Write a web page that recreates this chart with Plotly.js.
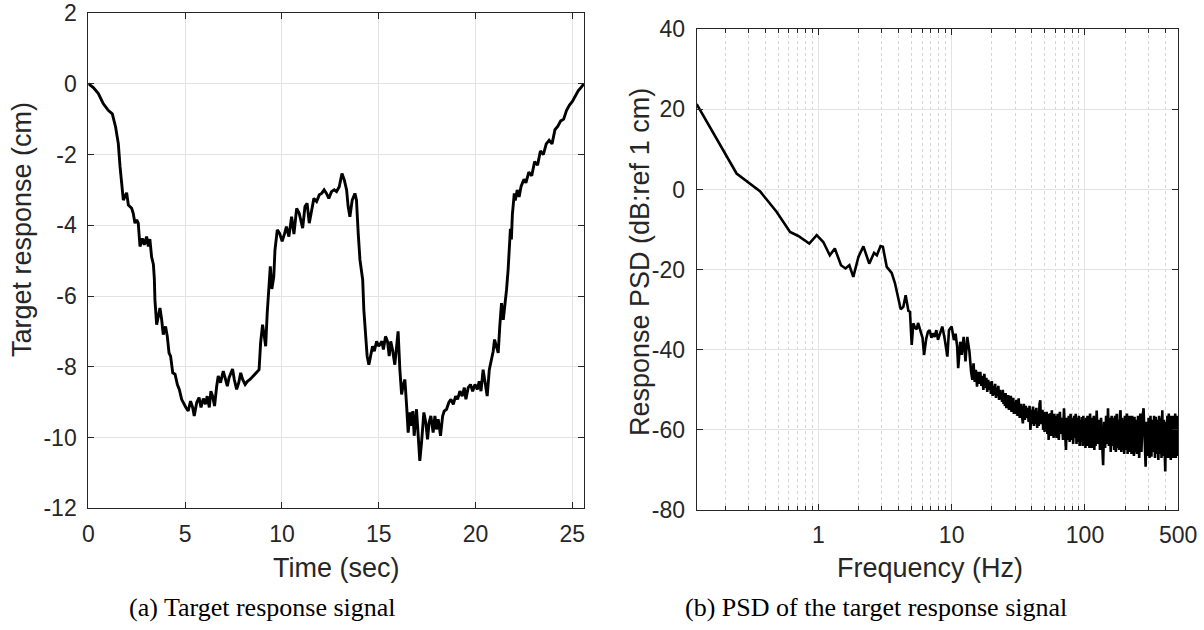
<!DOCTYPE html>
<html>
<head>
<meta charset="utf-8">
<script src="https://cdn.plot.ly/plotly-3.0.1.min.js"></script>
<style>html,body{margin:0;padding:0;background:#fff;}#chart{width:1204px;height:630px;}</style>
</head>
<body>
<div id="chart"></div>
<script>
// ---- Data ----
var timeSec = [0,0.26,0.52,0.77,1.03,1.24,1.41,1.55,1.64,1.72,1.81,1.89,1.98,2.07,2.24,2.32,2.41,2.50,2.58,2.67,2.79,2.89,3.01,3.10,3.18,3.27,3.36,3.41,3.44,3.53,3.61,3.70,3.79,3.87,3.99,4.08,4.17,4.25,4.36,4.48,4.60,4.70,4.82,4.94,5.04,5.16,5.28,5.39,5.47,5.60,5.72,5.82,5.94,6.05,6.14,6.25,6.33,6.42,6.52,6.63,6.71,6.83,6.97,7.09,7.18,7.27,7.35,7.45,7.54,7.66,7.77,7.87,7.97,8.10,8.22,8.35,8.52,8.69,8.82,8.90,9.00,9.09,9.16,9.24,9.33,9.40,9.48,9.58,9.64,9.76,9.88,10.01,10.14,10.23,10.36,10.50,10.62,10.76,10.89,11.07,11.19,11.30,11.41,11.53,11.65,11.79,11.93,12.05,12.18,12.30,12.42,12.56,12.70,12.82,12.96,13.10,13.22,13.34,13.42,13.51,13.63,13.77,13.85,13.94,14.03,14.11,14.17,14.23,14.32,14.40,14.49,14.61,14.68,14.77,14.89,15.00,15.16,15.24,15.35,15.45,15.54,15.62,15.71,15.83,15.92,16.00,16.09,16.18,16.27,16.35,16.44,16.52,16.61,16.70,16.76,16.83,16.95,17.04,17.12,17.21,17.33,17.43,17.52,17.60,17.69,17.81,17.90,17.98,18.07,18.19,18.30,18.38,18.50,18.62,18.73,18.85,18.97,19.07,19.19,19.31,19.42,19.50,19.62,19.74,19.85,19.97,20.09,20.19,20.28,20.39,20.48,20.60,20.71,20.83,20.91,20.98,21.09,21.17,21.25,21.34,21.43,21.51,21.60,21.68,21.75,21.80,21.85,21.90,22.00,22.05,22.15,22.25,22.35,22.50,22.60,22.75,22.90,23.05,23.20,23.35,23.50,23.65,23.80,23.95,24.10,24.25,24.40,24.55,24.70,24.85,25.00,25.15,25.30,25.45,25.60];
var responseCm = [0,-0.11,-0.28,-0.56,-0.75,-0.85,-1.22,-1.69,-2.35,-2.91,-3.29,-3.19,-3.08,-3.43,-3.52,-3.66,-3.94,-3.85,-3.94,-4.60,-4.37,-4.55,-4.32,-4.60,-4.39,-4.90,-5.10,-5.50,-6.10,-6.81,-6.57,-6.34,-6.67,-7.09,-6.86,-7.14,-7.61,-7.70,-8.17,-8.21,-8.50,-8.64,-8.92,-9.06,-9.15,-9.25,-8.97,-9.15,-9.39,-9.01,-8.87,-9.15,-8.90,-9.06,-8.83,-9.15,-8.69,-8.83,-9.11,-8.55,-8.26,-8.45,-8.12,-8.36,-8.55,-8.31,-8.22,-8.06,-8.36,-8.64,-8.45,-8.17,-8.36,-8.50,-8.41,-8.36,-8.26,-8.17,-8.08,-7.32,-6.81,-7.14,-7.42,-6.48,-5.60,-5.16,-5.80,-5.45,-4.70,-4.13,-4.23,-4.45,-4.23,-4.04,-4.32,-3.76,-4.25,-3.52,-3.66,-4.08,-3.47,-3.38,-3.94,-3.57,-3.24,-3.33,-3.14,-3.10,-3.00,-3.10,-3.24,-3.05,-3.00,-3.05,-2.91,-2.54,-2.72,-3.00,-3.47,-3.76,-3.29,-3.10,-3.29,-4.23,-4.98,-5.30,-5.54,-6.39,-7.23,-7.70,-7.94,-7.61,-7.42,-7.56,-7.28,-7.42,-7.28,-7.51,-7.14,-7.28,-7.70,-7.28,-7.51,-7.94,-7.42,-7.00,-8.08,-8.78,-8.50,-8.36,-9.11,-9.86,-9.29,-9.67,-9.25,-9.95,-9.20,-9.95,-10.66,-10.14,-9.29,-9.58,-10.05,-9.58,-9.39,-9.86,-9.39,-9.77,-9.48,-9.95,-9.39,-9.25,-9.20,-9.01,-8.92,-9.06,-8.83,-8.92,-8.69,-8.83,-8.59,-8.92,-8.59,-8.50,-8.69,-8.50,-8.64,-8.41,-8.69,-8.08,-8.41,-8.83,-8.08,-7.80,-7.56,-7.23,-7.42,-7.61,-6.86,-6.20,-6.67,-6.29,-5.82,-5.26,-4.60,-4.10,-4.40,-3.70,-3.10,-3.30,-3.00,-3.20,-2.90,-2.70,-2.80,-2.50,-2.60,-2.20,-2.30,-1.90,-2.00,-1.70,-1.60,-1.70,-1.30,-1.20,-1.05,-1.00,-0.75,-0.60,-0.50,-0.35,-0.20,-0.10,0];

var freqHz = [0.1225,0.244,0.365,0.488,0.614,0.708,0.856,0.973,1.09,1.22,1.33,1.48,1.60,1.71,1.83,2.0,2.18,2.41,2.62,2.75,2.93,3.05,3.26,3.55,3.76,3.98,4.15,4.34,4.52,4.74,4.87,5.02,5.16,5.32,5.47,5.6,5.9,6.05,6.21,6.45,6.65,6.84,7.05,7.25,7.45,7.68,7.9,8.13,8.51,8.86,9.29,9.55,10.0,10.4,10.7,11.0,11.2,11.6,11.9,12.3,12.7,13.1,13.6,
 14.0,14.3,14.6,14.9,15.2,15.5,15.8,16.1,16.4,16.7,17.0,17.3,17.6,17.9,18.2,18.5,18.8,19.1,19.4,19.7,20.0,20.3,20.6,20.9,21.2,21.5,21.8,22.1,22.4,22.7,23.0,23.3,23.6,23.9,24.2,24.5,24.8,25.1,25.4,25.7,26.0,26.3,26.6,26.9,27.2,27.5,27.8,28.1,28.4,28.7,29.0,29.3,29.6,
 30.0,30.6,31.2,31.8,32.4,33.0,33.6,34.2,34.8,35.4,36.0,36.6,37.2,37.8,38.4,39.0,39.6,40.2,40.8,41.4,42.0,42.6,43.2,43.8,44.4,45.0,45.6,46.2,46.8,47.4,48.0,48.6,49.2,49.8,50.4,51.0,51.6,52.2,52.8,53.4,54.0,54.6,55.2,55.8,56.4,57.0,57.6,58.2,58.8,59.4,
 60.0,61.2,62.4,63.6,64.8,66.0,67.2,68.4,69.6,70.8,72.0,73.2,74.4,75.6,76.8,78.0,79.2,80.4,81.6,82.8,84.0,85.2,86.4,87.6,88.8,90.0,91.2,92.4,93.6,94.8,96.0,97.2,98.4,99.6,100.8,102.0,103.2,104.4,105.6,106.8,108.0,109.2,110.4,111.6,112.8,114.0,115.2,116.4,117.6,118.8,
 120.0,122.4,124.8,127.2,129.6,132.0,134.4,136.8,139.2,141.6,144.0,146.4,148.8,151.2,153.6,156.0,158.4,160.8,163.2,165.6,168.0,170.4,172.8,175.2,177.6,180.0,182.4,184.8,187.2,189.6,192.0,194.4,196.8,199.2,201.6,204.0,206.4,208.8,211.2,213.6,216.0,218.4,220.8,223.2,225.6,228.0,230.4,232.8,235.2,237.6,
 240,245,250,255,260,265,270,275,280,285,290,295,300,305,310,315,320,325,330,335,340,345,350,355,360,365,370,375,380,385,390,395,400,405,410,415,420,425,430,435,440,445,450,455,460,465,470,475,480,485,490,495,500,505,510];
var psdDb = [21.3,4.0,-0.4,-5.6,-10.6,-11.6,-13.5,-11.4,-13.1,-16.4,-14.7,-18.9,-19.7,-18.9,-21.8,-16.8,-14.2,-18.5,-15.8,-16.4,-14.1,-14.3,-19.3,-20.8,-23.4,-26.8,-29.9,-29.3,-26.4,-30.3,-30.5,-38.8,-33.4,-34.5,-34.9,-33.3,-35.9,-37.0,-41.3,-37.2,-35.5,-35.1,-37.0,-35.9,-36.8,-35.1,-37.5,-36.3,-34.2,-37.2,-41.7,-35.1,-34.2,-37.6,-36.0,-39.2,-44.6,-38.0,-41.3,-36.8,-42.9,-36.8,-40.5,
 -45.5,-47.5,-43.4,-48.0,-45.0,-49.2,-45.5,-48.5,-45.5,-49.0,-46.5,-50.0,-46.0,-49.5,-47.0,-50.5,-47.5,-50.0,-48.0,-51.0,-47.8,-51.5,-49.0,-51.3,-48.5,-52.0,-49.5,-51.5,-49.0,-52.5,-50.0,-52.0,-50.5,-53.0,-50.0,-53.5,-51.0,-54.0,-50.8,-54.6,-51.5,-54.0,-51.3,-55.0,-52.0,-54.5,-51.5,-55.5,-52.5,-55.0,-52.0,-56.0,-53.0,
 -56.0,-52.5,-56.5,-52.1,-57.0,-53.5,-56.5,-58.4,-53.5,-57.5,-54.0,-57.0,-54.5,-58.0,-54.0,-60.0,-55.0,-58.5,-54.2,-59.0,-55.0,-58.5,-54.5,-59.5,-55.5,-59.0,-53.5,-52.6,-58.5,-57.6,-55.0,-60.0,-55.5,-60.5,-56.0,-60.0,-55.5,-61.0,-56.0,-62.5,-56.5,-61.0,-55.8,-61.5,-55.1,-61.0,-56.5,-62.0,-56.0,-61.5,
 -56.5,-62.0,-56.0,-62.5,-55.5,-61.0,-57.0,-62.5,-54.6,-62.0,-65.0,-57.0,-62.5,-56.5,-63.0,-56.0,-62.5,-57.0,-63.5,-56.5,-62.0,-56.0,-63.5,-57.0,-63.0,-56.5,-64.0,-57.5,-63.0,-56.8,-64.0,-56.5,-63.5,-57.5,-64.5,-57.0,-64.0,-56.5,-63.5,-57.5,-64.5,-55.9,-63.5,-57.0,-64.5,-57.5,-63.0,-56.5,-65.0,-57.0,
 -64.0,-55.2,-63.5,-57.5,-65.0,-57.0,-64.5,-68.8,-58.0,-64.5,-56.5,-63.5,-54.6,-64.0,-57.0,-65.5,-56.5,-64.0,-57.0,-65.0,-56.5,-65.5,-56.0,-64.5,-57.5,-65.0,-56.5,-55.1,-65.5,-57.0,-65.0,-57.5,-66.0,-56.5,-65.0,-57.0,-55.9,-66.0,-57.0,-65.5,-56.5,-65.0,-57.5,-66.0,-56.5,-65.5,-57.0,-66.5,-56.7,-65.5,
 -57.5,-66.0,-56.5,-67.0,-55.9,-65.5,-57.0,-54.6,-66.0,-69.2,-58.0,-66.5,-57.0,-67.0,-56.5,-66.7,-57.5,-65.5,-56.5,-67.0,-56.7,-66.0,-57.5,-67.5,-56.5,-66.0,-57.0,-67.0,-55.1,-66.5,-57.5,-67.5,-70.4,-58.0,-66.5,-56.5,-67.0,-55.9,-66.5,-57.0,-67.5,-56.5,-66.0,-57.5,-67.0,-56.5,-66.5,-55.9,-67.0,-57.0,-66.0,-56.5,-66.5,-57.5,-63.0];

var timeTickVals = [0,5,10,15,20,25];
var timeTickText = ['0','5','10','15','20','25'];
var respTickVals = [-12,-10,-8,-6,-4,-2,0,2];
var respTickText = ['-12','-10','-8','-6','-4','-2','0','2'];
var freqTickVals = [1,10,100,500];
var freqTickText = ['1','10','100','500'];
var freqMinorVals = [0.2,0.3,0.4,0.5,0.6,0.7,0.8,0.9,2,3,4,5,6,7,8,9,20,30,40,50,60,70,80,90,200,300,400];
var psdTickVals = [-80,-60,-40,-20,0,20,40];
var psdTickText = ['-80','-60','-40','-20','0','20','40'];

// ---- Styling ----
var axisColor = '#262626';
var gridColor = '#e3e3e3';
var tickFont = {family:'Liberation Sans, Arial, Helvetica, sans-serif', size:23, color:axisColor};
var titleFont = {family:'Liberation Sans, Arial, Helvetica, sans-serif', size:27, color:axisColor};
var capFont = {family:'Liberation Serif, Times New Roman, serif', size:26, color:'#000'};

function baseAxis(extra){
  var a = {showline:true, linecolor:axisColor, linewidth:1, mirror:'allticks', ticks:'inside', ticklen:6,
    tickcolor:axisColor, tickwidth:1, showgrid:true, gridcolor:gridColor, gridwidth:1, zeroline:false,
    tickfont:tickFont, tickmode:'array', fixedrange:true};
  for (var k in extra) a[k] = extra[k];
  return a;
}

var traces = [
  {x:timeSec, y:responseCm, type:'scatter', mode:'lines', line:{color:'#000', width:2.9}, xaxis:'x', yaxis:'y', hoverinfo:'skip'},
  {x:freqHz, y:psdDb, type:'scatter', mode:'lines', line:{color:'#000', width:2.6}, xaxis:'x2', yaxis:'y2', hoverinfo:'skip'}
];

var layout = {
  width:1204, height:630, margin:{l:0,r:0,t:0,b:0},
  paper_bgcolor:'#ffffff', plot_bgcolor:'#ffffff', showlegend:false,
  xaxis: baseAxis({domain:[88.3/1204, 584/1204], range:[0,25.6], tickvals:timeTickVals, ticktext:timeTickText, anchor:'y', ticklabelstandoff:5}),
  yaxis: baseAxis({domain:[1-508.3/630, 1-13/630], range:[-12,2], tickvals:respTickVals, ticktext:respTickText, anchor:'x', ticklabelstandoff:6}),
  xaxis2: baseAxis({type:'log', domain:[696.7/1204, 1178.3/1204], range:[Math.log10(0.1225), Math.log10(501)], tickvals:freqTickVals, ticktext:freqTickText, anchor:'y2', ticklabelstandoff:4,
     minor:{tickmode:'array', tickvals:freqMinorVals, ticks:'inside', ticklen:4, tickcolor:axisColor, showgrid:true, gridcolor:'#d4d4d4', griddash:'dot', gridwidth:1}}),
  yaxis2: baseAxis({domain:[1-510/630, 1-29.3/630], range:[-80,40], tickvals:psdTickVals, ticktext:psdTickText, anchor:'x2', ticklabelstandoff:6}),
  annotations:[
    {text:'Target response (cm)', xref:'paper', yref:'paper', x:22/1204, y:1-230/630, xanchor:'center', yanchor:'middle', textangle:-90, showarrow:false, font:titleFont},
    {text:'Response PSD (dB:ref 1 cm)', xref:'paper', yref:'paper', x:640/1204, y:1-262/630, xanchor:'center', yanchor:'middle', textangle:-90, showarrow:false, font:titleFont},
    {text:'Time (sec)', xref:'paper', yref:'paper', x:337/1204, y:1-568/630, xanchor:'center', yanchor:'middle', showarrow:false, font:titleFont},
    {text:'Frequency (Hz)', xref:'paper', yref:'paper', x:930/1204, y:1-568/630, xanchor:'center', yanchor:'middle', showarrow:false, font:titleFont},
    {text:'(a) Target response signal', xref:'paper', yref:'paper', x:262/1204, y:1-607/630, xanchor:'center', yanchor:'middle', showarrow:false, font:capFont},
    {text:'(b) PSD of the target response signal', xref:'paper', yref:'paper', x:876/1204, y:1-607/630, xanchor:'center', yanchor:'middle', showarrow:false, font:capFont}
  ]
};

Plotly.newPlot('chart', traces, layout, {displayModeBar:false, staticPlot:true});
</script>
</body>
</html>
